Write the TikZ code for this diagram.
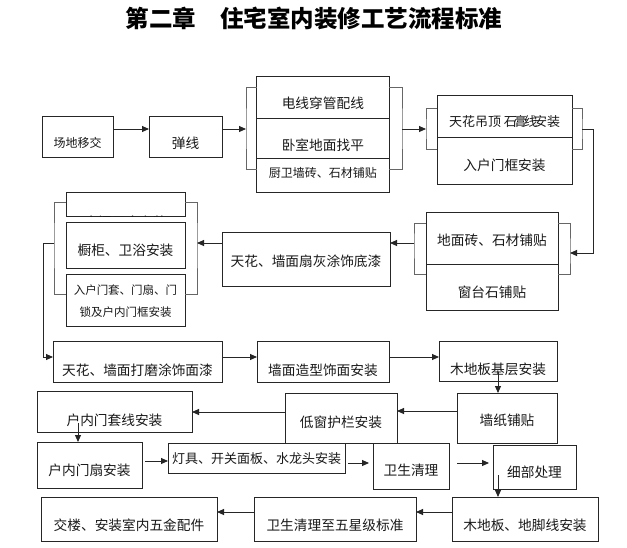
\documentclass[tikz,border=0pt]{standalone}
\usepackage{fontspec}
\setmainfont{Noto Sans CJK SC}
\usetikzlibrary{arrows.meta,calc}
\tikzset{
  bx/.style={draw=black!85, line width=0.8pt, inner sep=0pt, outer sep=0pt, fill=white},
  tx/.style={inner sep=0pt, outer sep=0pt, font=\fontsize{13.7}{16}\selectfont, text=black!90},
  arr/.style={draw=black!85, line width=0.9pt, -{Triangle[length=7pt,width=6pt]}},
  brk/.style={draw=black!60, line width=1pt},
}
\newcommand\bxn[5]{\node[bx, minimum width={(#4-#2)*1pt}, minimum height={(#5-#3)*1pt}] (#1) at ({(#2+#4)/2},{(#3+#5)/2}) {};}
\newcommand\txn[4]{\node[tx] (#1) at ([yshift=-#3pt]#2.center) {#4};}
\begin{document}
\begin{tikzpicture}[x=1pt,y=-1pt]
\fill[white] (0,0) rectangle (627,547);
\useasboundingbox (0,0) rectangle (627,547);

% title
\node[inner sep=0pt, font=\fontsize{23.5}{27}\selectfont\bfseries] (title) at (314,18) {第二章\hspace{24pt}住宅室内装修工艺流程标准};

% helper y-levels
\foreach \v in {87,169,108,149,223,274,202,294,357,411,412,461,463,512}{\coordinate (y\v) at (0,\v);}

% boxes
\bxn{A}{42}{116}{113}{157}
\bxn{B}{149}{116}{222}{157}
\bxn{g1a}{256.7}{76}{389}{118}
\bxn{g1b}{256.7}{118}{389}{158}
\bxn{g1c}{256.7}{158}{389}{192}
\bxn{g2a}{437}{95}{572}{137}
\bxn{g2b}{437}{137}{572}{184}
\bxn{g3a}{426}{212}{558}{264}
\bxn{g3b}{426}{264}{558}{310}
\bxn{D}{222}{232}{390}{286}
\bxn{g4a}{66}{192}{185}{216}
\bxn{g4b}{66}{222}{185}{268}
\bxn{g4c}{66}{274}{185}{326}
\bxn{E}{53}{341}{222}{382}
\bxn{F}{257}{341}{389}{382}
\bxn{G}{439}{341}{557}{381}
\bxn{H}{457}{393}{557}{443}
\bxn{I}{285}{393}{397}{443}
\bxn{J}{37}{391}{192}{432}
\bxn{K}{37}{442}{142}{488}
\bxn{L}{168}{443}{345}{473}
\bxn{M}{373}{443}{449}{489}
\bxn{N}{493}{445}{576}{489}
\bxn{O}{452}{497}{598}{541}
\bxn{P}{254}{497}{416}{541}
\bxn{Q}{41}{497}{217}{541}

% texts
\node[tx, font=\fontsize{12}{14}\selectfont] (At) at ([yshift=-6.5pt]A.center) {场地移交};
\txn{Bt}{B}{6.5}{弹线}
\txn{g1at}{g1a}{6}{电线穿管配线}
\txn{g1bt}{g1b}{7}{卧室地面找平}
\node[tx, font=\fontsize{12}{14}\selectfont] (g1ct) at ([yshift=2pt]g1c.center) {厨卫墙砖、石材铺贴};
\node[tx, font=\fontsize{13}{15}\selectfont] (g2at) at ([yshift=-6pt]g2a.center) {天花吊顶\hspace{3pt}石\hspace{-3pt}膏\hspace{-3pt}线\hspace{-3pt}安装};
\txn{g2bt}{g2b}{4.5}{入户门框安装}
\txn{g3at}{g3a}{2}{地面砖、石材铺贴}
\txn{g3bt}{g3b}{5}{窗台石铺贴}
\txn{Dt}{D}{2}{天花、墙面扇灰涂饰底漆}
\begin{scope}
\clip (g4a.south west) rectangle (g4a.north east);
\node[tx, anchor=base] (g4at) at (125.5,227.5) {木门五金安装};
\end{scope}
\txn{g4bt}{g4b}{5}{橱柜、卫浴安装}
\node[tx, align=center, font=\fontsize{11.5}{22}\selectfont] (g4ct) at ([yshift=-1pt]g4c.center) {入户门套、门扇、门\\锁及户内门框安装};
\txn{Et}{E}{8.5}{天花、墙面打磨涂饰面漆}
\txn{Ft}{F}{8.5}{墙面造型饰面安装}
\txn{Gt}{G}{8}{木地板基层安装}
\txn{Ht}{H}{2}{墙纸铺贴}
\txn{It}{I}{4}{低窗护栏安装}
\txn{Jt}{J}{8.5}{户内门套线安装}
\txn{Kt}{K}{5}{户内门扇安装}
\node[tx, font=\fontsize{13}{15}\selectfont] (Lt) at ([yshift=-1pt]L.center) {灯具、开关面板、水龙头安装};
\txn{Mt}{M}{4}{卫生清理}
\txn{Nt}{N}{5}{细部处理}
\txn{Ot}{O}{6}{木地板、地脚线安装}
\txn{Pt}{P}{6}{卫生清理至五星级标准}
\txn{Qt}{Q}{6}{交楼、安装室内五金配件}

% bracket junction points
\coordinate (b1l) at (246,129);
\coordinate (b1r) at (402,129);
\coordinate (b2l) at (426,129);
\coordinate (b2r) at (582,129);
\coordinate (t1) at (593,129);
\coordinate (b3r) at (570,253);
\coordinate (b3l) at (414,243);
\coordinate (b4r) at (197,243);
\coordinate (b4l) at (54,243);
\coordinate (t2) at (43,243);
\coordinate (gh) at (498,372);
\coordinate (jk) at (78,423);
\coordinate (no) at (498,475);

% brackets
\draw[brk] (g1a.west|-y87) -| (b1l) |- (g1c.west|-y169);
\draw[brk] (g1a.east|-y87) -| (b1r) |- (g1c.east|-y169);
\draw[brk] (g2a.west|-y108) -| (b2l) |- (g2b.west|-y149);
\draw[brk] (g2a.east|-y108) -| (b2r) |- (g2b.east|-y149);
\draw[brk] (g3a.east|-y223) -| (b3r) |- (g3b.east|-y274);
\draw[brk] (g3a.west|-y223) -| (b3l) |- (g3b.west|-y274);
\draw[brk] (g4a.east|-y202) -| (b4r) |- (g4c.east|-y294);
\draw[brk] (g4a.west|-y202) -| (b4l) |- (g4c.west|-y294);

% connectors
\draw[arr] (A.east|-b1l) -- (B.west|-b1l);
\draw[arr] (B.east|-b1l) -- (b1l);
\draw[arr] (b1r) -- (b2l);
\draw[arr] (b2r) -- (t1) |- (b3r);
\draw[arr] (b3l) -- (D.east|-b3l);
\draw[arr] (D.west|-b4r) -- (b4r);
\draw[arr] (b4l) -- (t2) |- (E.west|-y357);
\draw[arr] (E.east|-y357) -- (F.west|-y357);
\draw[arr] (F.east|-y357) -- (G.west|-y357);
\draw[arr] (gh) -- (gh|-H.north);
\draw[arr] (H.west|-y411) -- (I.east|-y411);
\draw[arr] (I.west|-y412) -- (J.east|-y412);
\draw[arr] (jk) -- (jk|-K.north);
\draw[arr, shorten <=3pt] (K.east|-y461) -- (L.west|-y461);
\draw[arr, shorten <=3pt, shorten >=4pt] (L.east|-y463) -- (M.west|-y463);
\draw[arr, shorten <=8pt, shorten >=4pt] (M.east|-y463) -- (N.west|-y463);
\draw[arr] (no) -- (no|-O.north);
\draw[arr] (O.west|-y512) -- (P.east|-y512);
\draw[arr] (P.west|-y512) -- (Q.east|-y512);
\end{tikzpicture}
\end{document}
